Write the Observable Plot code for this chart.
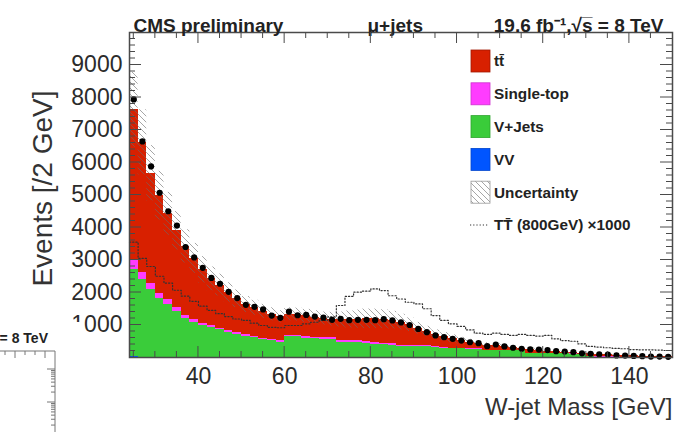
<!DOCTYPE html>
<html>
<head>
<meta charset="utf-8">
<script src="https://cdn.jsdelivr.net/npm/d3@7"></script>
<script src="https://cdn.jsdelivr.net/npm/@observablehq/plot@0.6"></script>
<style>
  html,body{margin:0;padding:0;background:#fff;}
  #chart{position:relative;width:680px;height:432px;overflow:hidden;}
</style>
</head>
<body>
<div id="chart"></div>
<script>
// ---------------- data ----------------
const binLow = [24,26,28,30,32,34,36,38,40,42,44,46,48,50,52,54,56,58,60,62,64,66,68,70,72,74,76,78,80,82,84,86,88,90,92,94,96,98,100,102,104,106,108,110,112,114,116,118,120,122,124,126,128,130,132,134,136,138,140,142,144,146,148];
const binWidth = 2;

const dataCounts = [7940,6650,5880,5070,4500,4060,3400,3080,2760,2450,
  2270,2020,1830,1620,1560,1480,1290,1220,1410,1300,
  1310,1260,1230,1160,1190,1150,1160,1160,1150,1180,
  1140,1080,1000,880,780,680,625,575,520,470,
  440,350,400,340,300,270,250,245,230,195,
  185,165,130,115,95,90,65,60,50,40,
  30,30,20];

const vvYield = [25,15,8,6,5,5,4,4,4,4,
  3,3,3,3,3,3,3,3,3,3,
  3,3,3,3,3,3,3,3,3,3,
  3,2,2,2,2,2,2,2,2,2,
  2,2,2,1,1,1,1,1,1,1,
  1,1,1,1,1,1,1,1,1,1,
  1,1,1];

const vjetsYield = [2680,2370,2070,1810,1630,1400,1195,1075,975,915,
  845,775,708,648,598,554,509,470,628,628,
  588,568,563,556,464,452,445,435,392,384,
  376,338,335,330,326,321,267,262,263,258,
  254,209,210,205,205,201,116,111,112,107,
  107,102,98,15,12,10,10,8,8,6,
  6,5,5];

const singleTopYield = [285,220,185,165,150,140,95,95,65,60,
  55,52,50,46,44,42,40,38,45,42,
  40,40,40,42,50,58,62,62,58,52,
  45,40,35,30,28,26,24,22,20,18,
  16,15,14,13,12,11,10,10,9,9,
  8,8,7,7,6,6,5,5,4,4,
  3,3,3];

const ttbarYield = [4630,4015,3407,2999,2635,2355,2126,1876,1656,1441,
  1327,1170,1049,933,885,821,778,739,654,647,
  649,629,594,579,653,657,670,690,737,741,
  726,710,638,538,444,361,347,294,235,192,
  158,154,134,111,82,57,113,98,78,63,
  44,29,19,87,76,68,54,46,37,35,
  25,21,16];

const systUnc = [1150,1000,850,750,660,590,510,460,405,365,
  335,300,270,245,230,215,200,190,200,200,
  200,200,200,210,230,260,280,300,300,290,
  270,240,210,180,160,140,125,115,100,90,
  85,75,70,65,60,55,50,45,40,36,
  32,28,25,22,19,17,14,12,10,9,
  7,6,5];

const signalTTx1000 = [3550,3050,2800,2500,2290,2070,1890,1730,1580,1450,
  1350,1260,1185,1140,1055,985,930,915,985,985,
  1035,1085,1140,1250,1600,1880,2010,2040,2110,2060,
  1900,1800,1700,1650,1500,1290,1140,1035,955,850,
  750,710,750,710,680,710,680,660,680,575,
  520,500,420,340,320,300,280,270,245,235,
  235,230,215];

const processes = ["VV", "V+Jets", "Single-top", "tt\u0304"];
const processColors = ["#0055ff", "#3acc3a", "#ff3cff", "#d82000"];
const xTickLabels = [40, 60, 80, 100, 120, 140];
const yTickLabels = [1000, 2000, 3000, 4000, 5000, 6000, 7000, 8000, 9000];
const legendLabels = ["tt\u0304", "Single-top", "V+Jets", "VV", "Uncertainty", "TT\u0304 (800GeV) \u00d71000"];

// ---------------- tables ----------------
const componentArrays = [vvYield, vjetsYield, singleTopYield, ttbarYield];
const stackRows = [];
binLow.forEach((lo, i) => {
  componentArrays.forEach((arr, j) => {
    stackRows.push({lo, hi: lo + binWidth, value: arr[i], proc: processes[j]});
  });
});
const bins = binLow.map((lo, i) => ({
  lo, hi: lo + binWidth, mid: lo + binWidth / 2,
  data: dataCounts[i],
  mc: vvYield[i] + vjetsYield[i] + singleTopYield[i] + ttbarYield[i],
  unc: systUnc[i],
  sig: signalTTx1000[i]
}));
const sigSteps = bins.map(b => ({x: b.lo, y: b.sig}));
sigSteps.push({x: bins[bins.length - 1].hi, y: bins[bins.length - 1].sig});

const font = '"Liberation Sans", Arial, Helvetica, sans-serif';
const dotted = "1.2,2";

const chart = Plot.plot({
  width: 680, height: 432,
  marginTop: 32, marginRight: 8, marginBottom: 75, marginLeft: 129,
  style: {fontFamily: font, fontSize: "23px", color: "#2b2b2b", background: "white", overflow: "visible"},
  x: {domain: [24, 150], ticks: xTickLabels, tickSize: 0, tickPadding: 10, tickFormat: "d", label: null},
  y: {domain: [0, 10000], ticks: yTickLabels, tickSize: 0, tickPadding: 7, tickFormat: "d", label: null},
  color: {domain: processes, range: processColors},
  marks: [
    Plot.rectY(stackRows, {x1: "lo", x2: "hi", y: "value", fill: "proc", shapeRendering: "crispEdges"}),
    Plot.rectY(bins, {x1: "lo", x2: "hi", y1: d => d.mc - d.unc, y2: d => d.mc + d.unc, fill: "url(#hatchPat)"}),
    Plot.line(sigSteps, {x: "x", y: "y", curve: "step-after", stroke: "#333", strokeWidth: 1.2, strokeDasharray: dotted}),
    Plot.dot(bins, {x: "mid", y: "data", r: 3.1, fill: "black"}),
    Plot.frame({stroke: "#4a4a4a", strokeWidth: 1.5}),
    Plot.text(["CMS preliminary"], {text: d => d, frameAnchor: "top-left", textAnchor: "start", dx: 4, dy: -14, fontSize: 19, fontWeight: "bold", fill: "#222"}),
    Plot.text(["\u03bc+jets"], {text: d => d, frameAnchor: "top-left", textAnchor: "start", dx: 238, dy: -14, fontSize: 19, fontWeight: "bold", fill: "#222"}),
    Plot.text(["19.6 fb\u207b\u00b9,\u221as\u0305 = 8 TeV"], {text: d => d, frameAnchor: "top-right", textAnchor: "end", dx: -9, dy: -14, fontSize: 19, fontWeight: "bold", fill: "#222"}),
    Plot.text(["Events [/2 GeV]"], {text: d => d, frameAnchor: "top-left", textAnchor: "end", rotate: -90, dx: -97.5, dy: 58, fontSize: 28, fill: "#333"}),
    Plot.text(["W-jet Mass [GeV]"], {text: d => d, frameAnchor: "bottom-right", textAnchor: "end", dx: 0, dy: 57.7, fontSize: 24, fill: "#333"})
  ]
});

document.getElementById("chart").appendChild(chart);

// ---------------- decorations: hatch, inward ticks, legend ----------------
const svg = d3.select(chart);
const defs = svg.insert("defs", ":first-child");
const pat = defs.append("pattern").attr("id", "hatchPat").attr("patternUnits", "userSpaceOnUse").attr("width", 6).attr("height", 6);
pat.append("path").attr("d", "M-1,-1L7,7M-1,5L1,7M5,-1L7,1").attr("stroke", "#6a6a6a").attr("stroke-width", 0.6).attr("fill", "none");

const sx = chart.scale("x"), sy = chart.scale("y");
const X = d3.scaleLinear(sx.domain, sx.range);
const Y = d3.scaleLinear(sy.domain, sy.range);
const [x0, x1] = X.range(), [yb, yt] = [Y(0), Y(10000)];

const g = svg.append("g").attr("stroke", "#4a4a4a").attr("stroke-width", 1);
const xMinor = d3.range(25, 150, 5).filter(v => !xTickLabels.includes(v));
xTickLabels.forEach(v => {
  g.append("line").attr("x1", X(v)).attr("x2", X(v)).attr("y1", yb).attr("y2", yb - 11);
  g.append("line").attr("x1", X(v)).attr("x2", X(v)).attr("y1", yt).attr("y2", yt + 11);
});
xMinor.forEach(v => {
  g.append("line").attr("x1", X(v)).attr("x2", X(v)).attr("y1", yb).attr("y2", yb - 6);
  g.append("line").attr("x1", X(v)).attr("x2", X(v)).attr("y1", yt).attr("y2", yt + 6);
});
d3.range(200, 10000, 200).forEach(v => {
  const major = v % 1000 === 0;
  const len = major ? 12 : 6;
  g.append("line").attr("x1", x0).attr("x2", x0 + len).attr("y1", Y(v)).attr("y2", Y(v));
  g.append("line").attr("x1", x1).attr("x2", x1 - len).attr("y1", Y(v)).attr("y2", Y(v));
});

// legend
const leg = svg.append("g").attr("font-family", font).attr("font-size", 15.3).attr("font-weight", "bold")
  .attr("fill", "#222").attr("text-anchor", "start");
const legendFills = [processColors[3], processColors[2], processColors[1], processColors[0], "url(#hatchPat)"];
const legendStroke = [d3.color(processColors[3]).darker(0.8), d3.color(processColors[2]).darker(0.6), d3.color(processColors[1]).darker(0.6), d3.color(processColors[0]).darker(0.6), "#999"];
legendLabels.forEach((lab, i) => {
  const cy = 61 + i * 32.8;
  if (i < 5) {
    if (i === 4) leg.append("rect").attr("x", 471).attr("y", cy - 11).attr("width", 19).attr("height", 22).attr("fill", "#fff");
    leg.append("rect").attr("x", 471).attr("y", cy - 11).attr("width", 19).attr("height", 22)
      .attr("fill", legendFills[i]).attr("stroke", legendStroke[i]).attr("stroke-width", 0.8);
  } else {
    leg.append("line").attr("x1", 470).attr("x2", 488).attr("y1", cy).attr("y2", cy)
      .attr("stroke", "#333").attr("stroke-width", 1.2).attr("stroke-dasharray", dotted);
  }
  leg.append("text").attr("x", 494).attr("y", cy).attr("dy", "0.35em").attr("text-anchor", "start").text(lab);
});

// cropped fragment of a neighbouring figure (bottom-left of the reference)
const frag = svg.append("g");
frag.append("rect").attr("x", 0).attr("y", 322).attr("width", 84).attr("height", 110).attr("fill", "#fff");
frag.append("text").attr("x", 48).attr("y", 343).attr("text-anchor", "end").attr("font-family", font)
  .attr("font-size", 14).attr("font-weight", "bold").attr("fill", "#222").text("= 8 TeV");
const fl = frag.append("g").attr("stroke", "#777").attr("stroke-width", 1).attr("fill", "none");
fl.append("path").attr("d", "M0,351H55V432");
[5, 15, 25, 35, 45].forEach((x, i) => fl.append("line").attr("x1", x).attr("x2", x).attr("y1", 351).attr("y2", 351 + (i === 1 || i === 4 ? 7 : 4)));
[369, 402].forEach(top => {
  fl.append("line").attr("x1", 55).attr("x2", 47).attr("y1", top).attr("y2", top);
  [9, 8, 7, 6, 5, 4, 3, 2].forEach(k => {
    const y = top + 33 * (1 - Math.log10(k));
    fl.append("line").attr("x1", 55).attr("x2", 51).attr("y1", y).attr("y2", y);
  });
});
</script>
</body>
</html>
